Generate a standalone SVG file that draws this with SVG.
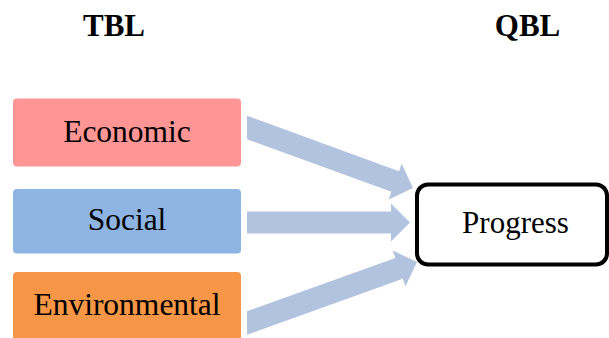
<svg xmlns="http://www.w3.org/2000/svg" width="609" height="338" viewBox="0 0 609 338">
  <style>
    .lbl { font-family: "Liberation Serif", "Times New Roman", serif; font-size: 31.5px; fill: #000; text-anchor: middle; }
    .head { font-family: "Liberation Serif", "Times New Roman", serif; font-size: 31px; font-weight: bold; fill: #000; text-anchor: middle; }
    .arrow { fill: #B1C3DF; }
  </style>
  <rect width="609" height="338" fill="#fff"/>

  <text class="head" x="114" y="36">TBL</text>
  <text class="head" x="527.5" y="36">QBL</text>

  <g id="connectors">
    <polygon class="arrow" points="247,115.8 399,171.2 401.7,163.7 413,188 388.7,199.4 391.4,191.8 247,139.2"/>
    <polygon class="arrow" points="247,211.5 391,211.5 391,203.5 410,222.5 391,241.5 391,233.5 247,233.5"/>
    <polygon class="arrow" points="247,311.3 395.4,258.1 392.7,250.5 417,262 405.5,286.3 402.8,278.8 247,334.7"/>
  </g>

  <g id="economic">
    <rect x="13" y="98.5" width="228" height="68" rx="4" fill="#FF9595"/>
    <text class="lbl" x="127" y="141.5">Economic</text>
  </g>
  <g id="social">
    <rect x="13" y="189" width="228" height="64.5" rx="4" fill="#8EB4E3"/>
    <text class="lbl" x="127" y="230">Social</text>
  </g>
  <g id="environmental">
    <rect x="13" y="272" width="228" height="80" rx="4" fill="#F79646"/>
    <text class="lbl" x="127" y="315">Environmental</text>
  </g>

  <g id="progress">
    <rect x="417" y="184.5" width="190" height="80" rx="11" fill="#fff" stroke="#000" stroke-width="4"/>
    <text class="lbl" x="515.5" y="233.3" style="font-size:31px">Progress</text>
  </g>
</svg>
